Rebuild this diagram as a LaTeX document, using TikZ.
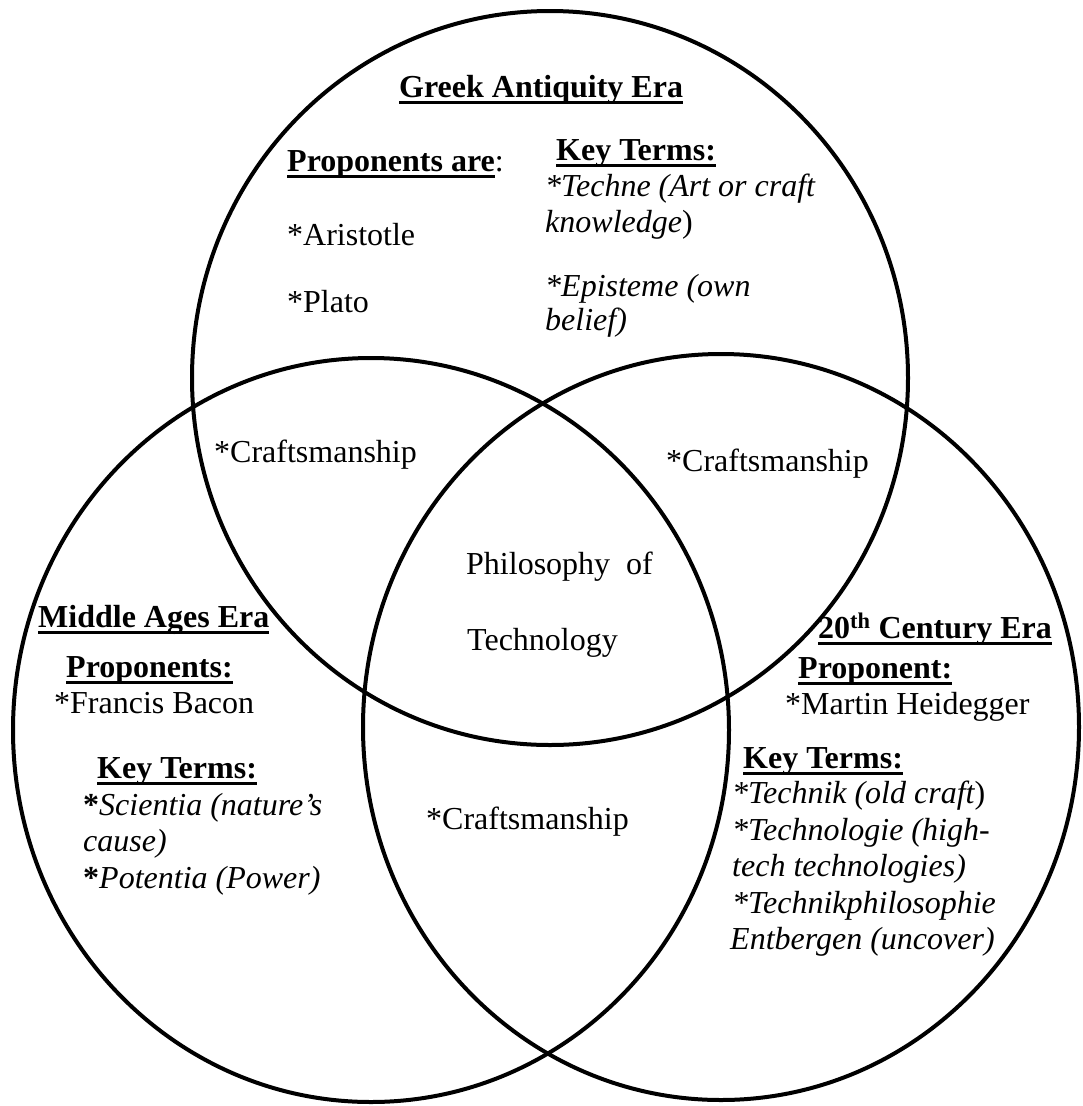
\documentclass[tikz,border=0pt]{standalone}
\usepackage{fontspec}
\setmainfont{Liberation Serif}
\newcommand\hul[1]{\setbox0\hbox{#1}\rlap{\rule[-7pt]{\wd0}{3.2pt}}\box0}
\begin{document}
\begin{tikzpicture}[x=1pt,y=-1pt,
  ring/.style={line width=4pt},
  lbl/.style={anchor=base west, inner sep=0pt, font=\fontsize{32}{36}\selectfont}]
\useasboundingbox[fill=white] (0,0) rectangle (1083,1106);
% circles
\draw[ring] (550,378) ellipse [x radius=358, y radius=367];
\draw[ring] (371,730) ellipse [x radius=358, y radius=372];
\draw[ring] (721,727) ellipse [x radius=358, y radius=373];
% Greek Antiquity
\node[lbl] (ga) at (399,97) {\hul{\bfseries Greek Antiquity Era}};
\node[lbl] (gaP) at (287,171) {\hul{\bfseries Proponents are}:};
\node[lbl] (gaA) at (287,245) {*Aristotle};
\node[lbl] (gaPl) at (287,312) {*Plato};
\node[lbl] (gaK) at (556,160) {\hul{\bfseries Key Terms:}};
\node[lbl] (gaT1) at (545,196) {\itshape *Techne (Art or craft};
\node[lbl] (gaT2) at (545,232) {\itshape knowledge\upshape)};
\node[lbl] (gaE1) at (545,296) {\itshape *Episteme (own};
\node[lbl] (gaE2) at (545,330) {\itshape belief)};
% intersections
\node[lbl] (c1) at (214,462) {*Craftsmanship};
\node[lbl] (c2) at (666,471) {*Craftsmanship};
\node[lbl] (c3) at (426,829) {*Craftsmanship};
\node[lbl] (ph1) at (466,574) {Philosophy\ \ of};
\node[lbl] (ph2) at (467,650) {Technology};
% Middle Ages
\node[lbl] (ma) at (38,627) {\hul{\bfseries Middle Ages Era}};
\node[lbl] (maP) at (66,677) {\hul{\bfseries Proponents:}};
\node[lbl] (maF) at (54,713) {*Francis Bacon};
\node[lbl] (maK) at (97,778) {\hul{\bfseries Key Terms:}};
\node[lbl] (maS1) at (83,815) {\textbf{*}\itshape Scientia (nature’s};
\node[lbl] (maS2) at (83,851) {\itshape cause)};
\node[lbl] (maS3) at (83,888) {\textbf{*}\itshape Potentia (Power)};
% 20th century
\node[lbl] (tc) at (818,638) {\hul{\bfseries 20\textsuperscript{th} Century Era}};
\node[lbl] (tcP) at (798,678) {\hul{\bfseries Proponent:}};
\node[lbl] (tcM) at (785,714) {*Martin Heidegger};
\node[lbl] (tcK) at (743,768) {\hul{\bfseries Key Terms:}};
\node[lbl] (tc1) at (732,803) {\itshape *Technik (old craft\upshape)};
\node[lbl] (tc2) at (732,840) {\itshape *Technologie (high-};
\node[lbl] (tc3) at (732,876) {\itshape tech technologies)};
\node[lbl] (tc4) at (732,913) {\itshape *Technikphilosophie};
\node[lbl] (tc5) at (730,949) {\itshape Entbergen (uncover)};
\end{tikzpicture}
\end{document}
